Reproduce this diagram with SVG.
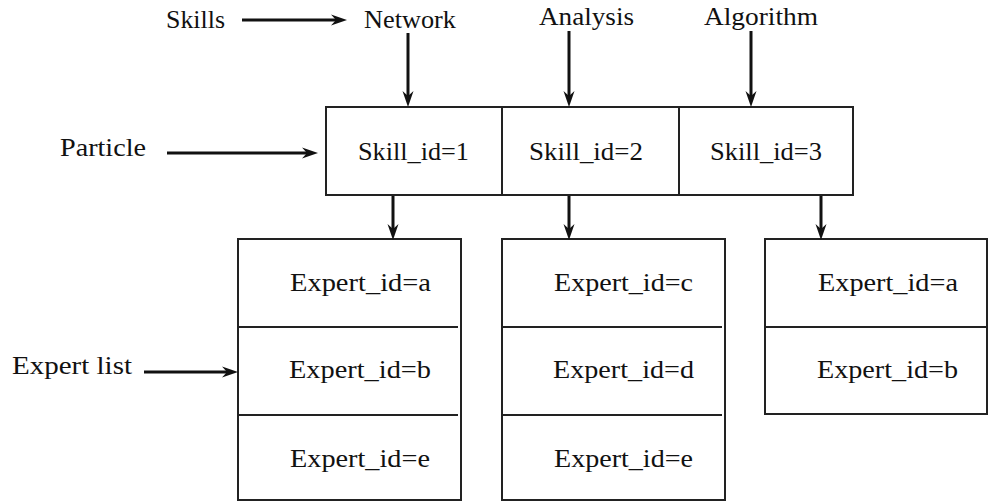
<svg xmlns="http://www.w3.org/2000/svg" width="989" height="502" viewBox="0 0 989 502">
<style>
text{font-family:"Liberation Serif","Times New Roman",serif;font-size:25px;fill:#111}
.box{fill:#fff;stroke:#222;stroke-width:2}
.div{stroke:#222;stroke-width:2}
.arr{stroke:#111;stroke-width:3;fill:none;marker-end:url(#ah)}
</style>
<defs>
<marker id="ah" viewBox="-16 -6 16 12" refX="-10" refY="0" markerWidth="16" markerHeight="12" markerUnits="userSpaceOnUse" orient="auto">
<path d="M0,0 L-16,-5.5 L-11,0 L-16,5.5 Z" fill="#111"/>
</marker>
</defs>
<rect width="989" height="502" fill="#fff"/>

<g id="labels">
<text x="166" y="28" textLength="59" lengthAdjust="spacingAndGlyphs">Skills</text>
<text x="364" y="28" textLength="92" lengthAdjust="spacingAndGlyphs">Network</text>
<text x="539" y="25" textLength="95" lengthAdjust="spacingAndGlyphs">Analysis</text>
<text x="704" y="25" textLength="114" lengthAdjust="spacingAndGlyphs">Algorithm</text>
<text x="60" y="156" textLength="86" lengthAdjust="spacingAndGlyphs">Particle</text>
<text x="12" y="374" textLength="120" lengthAdjust="spacingAndGlyphs">Expert list</text>
</g>

<g id="particle">
<rect class="box" x="326" y="107" width="527" height="88"/>
<line class="div" x1="502" y1="107" x2="502" y2="195"/>
<line class="div" x1="679" y1="107" x2="679" y2="195"/>
<text x="358" y="160" textLength="111" lengthAdjust="spacingAndGlyphs">Skill_id=1</text>
<text x="529" y="160" textLength="114" lengthAdjust="spacingAndGlyphs">Skill_id=2</text>
<text x="710" y="160" textLength="112" lengthAdjust="spacingAndGlyphs">Skill_id=3</text>
</g>

<g id="list1">
<rect class="box" x="238" y="239" width="223" height="261"/>
<line class="div" x1="238" y1="327" x2="458" y2="327"/>
<line class="div" x1="238" y1="415" x2="458" y2="415"/>
<text x="290" y="291" textLength="141" lengthAdjust="spacingAndGlyphs">Expert_id=a</text>
<text x="289" y="378" textLength="142" lengthAdjust="spacingAndGlyphs">Expert_id=b</text>
<text x="290" y="467" textLength="140" lengthAdjust="spacingAndGlyphs">Expert_id=e</text>
</g>

<g id="list2">
<rect class="box" x="502" y="239" width="223" height="261"/>
<line class="div" x1="502" y1="327" x2="722" y2="327"/>
<line class="div" x1="502" y1="415" x2="722" y2="415"/>
<text x="554" y="291" textLength="139" lengthAdjust="spacingAndGlyphs">Expert_id=c</text>
<text x="553" y="378" textLength="141" lengthAdjust="spacingAndGlyphs">Expert_id=d</text>
<text x="554" y="467" textLength="139" lengthAdjust="spacingAndGlyphs">Expert_id=e</text>
</g>

<g id="list3">
<rect class="box" x="765" y="239" width="222" height="175"/>
<line class="div" x1="765" y1="327" x2="987" y2="327"/>
<text x="818" y="291" textLength="140" lengthAdjust="spacingAndGlyphs">Expert_id=a</text>
<text x="817" y="378" textLength="141" lengthAdjust="spacingAndGlyphs">Expert_id=b</text>
</g>

<g id="connectors">
<line class="arr" x1="242" y1="20" x2="337" y2="20"/>
<line class="arr" x1="408" y1="33" x2="408" y2="97"/>
<line class="arr" x1="569" y1="31" x2="569" y2="97"/>
<line class="arr" x1="751" y1="31" x2="751" y2="97"/>
<line class="arr" x1="167" y1="153" x2="308" y2="153"/>
<line class="arr" x1="393" y1="196" x2="393" y2="230"/>
<line class="arr" x1="569" y1="196" x2="569" y2="230"/>
<line class="arr" x1="821" y1="196" x2="821" y2="230"/>
<line class="arr" x1="144" y1="372" x2="228" y2="372"/>
</g>
</svg>
